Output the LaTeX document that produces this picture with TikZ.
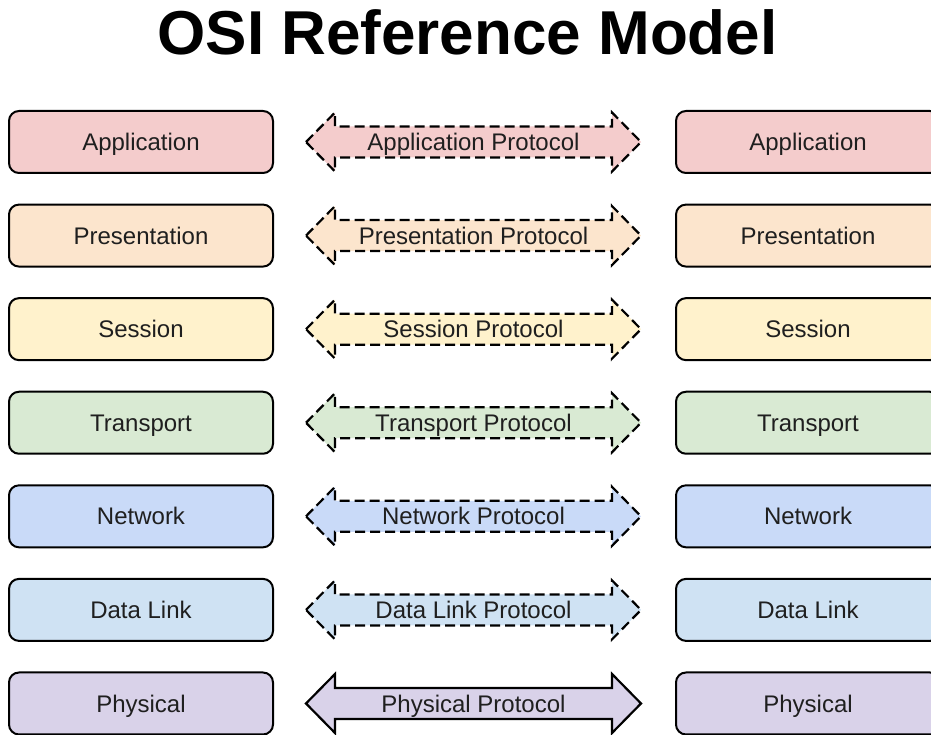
\documentclass[tikz,border=0pt]{standalone}
\usepackage{fontspec}
\setmainfont{Liberation Sans}
\usetikzlibrary{calc}
\definecolor{cApp}{HTML}{F4CCCC}
\definecolor{cPre}{HTML}{FCE5CD}
\definecolor{cSes}{HTML}{FFF2CC}
\definecolor{cTra}{HTML}{D9EAD3}
\definecolor{cNet}{HTML}{C9DAF8}
\definecolor{cDat}{HTML}{CFE2F3}
\definecolor{cPhy}{HTML}{D9D2E9}
\begin{document}
\begin{tikzpicture}[x=1pt,y=-1pt,
  layerbox/.style={draw=black, line width=2pt, rounded corners=10pt,
    minimum width=264pt, minimum height=62pt, inner sep=0pt,
    font=\fontsize{24}{28}\selectfont, text=black!88,
    text height=17.2pt, text depth=0pt},
  protolabel/.style={inner sep=0pt, font=\fontsize{24}{28}\selectfont,
    text=black!88, text height=17.2pt, text depth=0pt},
  protoarrow/.style={draw=black, line width=2.2pt, line join=miter},
  dashedline/.style={dash pattern=on 10pt off 5pt}
]
\useasboundingbox (0,0) rectangle (931,735);
\clip (0,0) rectangle (931,735);
\node[font=\bfseries\fontsize{62}{70}\selectfont, anchor=base, inner sep=0pt] (title) at (467.5,55) {OSI Reference Model};
\foreach \i/\txt/\col/\sty in {0/Application/cApp/dashedline,
    1/Presentation/cPre/dashedline, 2/Session/cSes/dashedline,
    3/Transport/cTra/dashedline, 4/Network/cNet/dashedline,
    5/Data Link/cDat/dashedline, 6/Physical/cPhy/solid}{
  \pgfmathsetmacro{\yc}{142+93.58*\i}
  \node[layerbox, fill=\col] (L\i) at (141,\yc) {\txt};
  \node[layerbox, fill=\col] (R\i) at (808,\yc) {\txt};
  \coordinate (P\i) at (473.5,\yc);
  \draw[protoarrow, \sty, fill=\col]
    ($(P\i)+(-167.5,0)$) -- ($(P\i)+(-138.5,-29.5)$) -- ($(P\i)+(-138.5,-15.5)$)
    -- ($(P\i)+(138.5,-15.5)$) -- ($(P\i)+(138.5,-29.5)$) -- ($(P\i)+(167.5,0)$)
    -- ($(P\i)+(138.5,29.5)$) -- ($(P\i)+(138.5,15.5)$) -- ($(P\i)+(-138.5,15.5)$)
    -- ($(P\i)+(-138.5,29.5)$) -- cycle;
  \node[protolabel] (T\i) at (P\i) {\txt\ Protocol};
}
\end{tikzpicture}
\end{document}
